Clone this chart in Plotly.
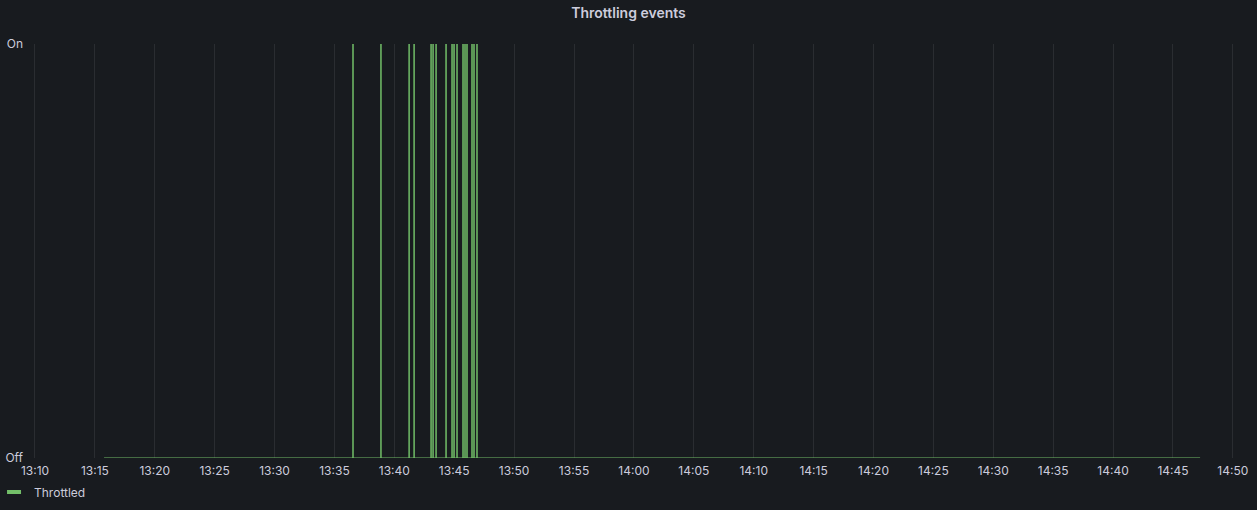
import pandas as pd
import plotly.graph_objs as go

# 数据：节流事件（0 = Off, 1 = On）
series_start = "2023-01-01 13:15:46"
series_end = "2023-01-01 14:47:16"
spike_times = [
    "13:36:33", "13:38:53", "13:41:14", "13:41:39",
    "13:43:04", "13:43:14", "13:43:29", "13:44:19",
    "13:44:49", "13:44:59", "13:45:14", "13:45:44",
    "13:45:54", "13:46:04", "13:46:29", "13:46:39", "13:46:54",
]
y_tickvals = [0, 1]
y_ticktext = ["Off", "On"]
x_range = ["2023-01-01 13:09:25", "2023-01-01 14:51:26"]

# 组装阶梯序列：每个事件 0 -> 1 -> 0
xs = [pd.Timestamp(series_start)]
ys = [0]
for t in spike_times:
    ts = pd.Timestamp("2023-01-01 " + t)
    xs += [ts, ts, ts]
    ys += [0, 1, 0]
xs.append(pd.Timestamp(series_end))
ys.append(0)

bg = "#181b1f"
grid = "rgba(204,204,220,0.10)"
text_color = "#ccccdc"
green = "#73bf69"

fig = go.Figure()
fig.add_trace(go.Scatter(
    x=xs, y=ys, mode="lines",
    line=dict(color=green, width=1),
    name="Throttled", legendgroup="t", showlegend=False,
    hoverinfo="skip",
))
# 图例样式（短粗色块）
fig.add_trace(go.Scatter(
    x=[None], y=[None], mode="markers",
    marker=dict(symbol="line-ew", size=10, color=green,
                line=dict(color=green, width=4)),
    name="Throttled", legendgroup="t", showlegend=True,
))

fig.update_layout(
    width=1257, height=510,
    paper_bgcolor=bg, plot_bgcolor=bg,
    font=dict(family="Inter, Roboto, sans-serif", size=12, color=text_color),
    margin=dict(l=28, r=7, t=44, b=52, autoexpand=False),
    title=dict(text="Throttling events", x=0.5, xanchor="center",
               y=1 - 13 / 510, yanchor="middle",
               font=dict(size=14, color=text_color, weight=600)),
    showlegend=True,
    legend=dict(orientation="h", x=-0.0278, xanchor="left",
                y=-0.082, yanchor="middle",
                bgcolor="rgba(0,0,0,0)", font=dict(size=12, color=text_color)),
)
fig.update_xaxes(
    type="date", range=x_range, automargin=False,
    dtick=5 * 60 * 1000, tick0="2023-01-01 13:10:00", tickformat="%H:%M",
    showgrid=True, gridcolor=grid, gridwidth=1,
    zeroline=False, showline=False, ticks="", ticklabelstandoff=4,
)
fig.update_yaxes(
    range=[0, 1], tickmode="array", tickvals=y_tickvals, ticktext=y_ticktext,
    automargin=False,
    showgrid=True, gridcolor=grid, gridwidth=1,
    zeroline=False, showline=False, ticks="", ticklabelstandoff=4,
)

fig.write_html("out.html", config={"displayModeBar": False},
               post_script="document.body.style.margin='0';")
